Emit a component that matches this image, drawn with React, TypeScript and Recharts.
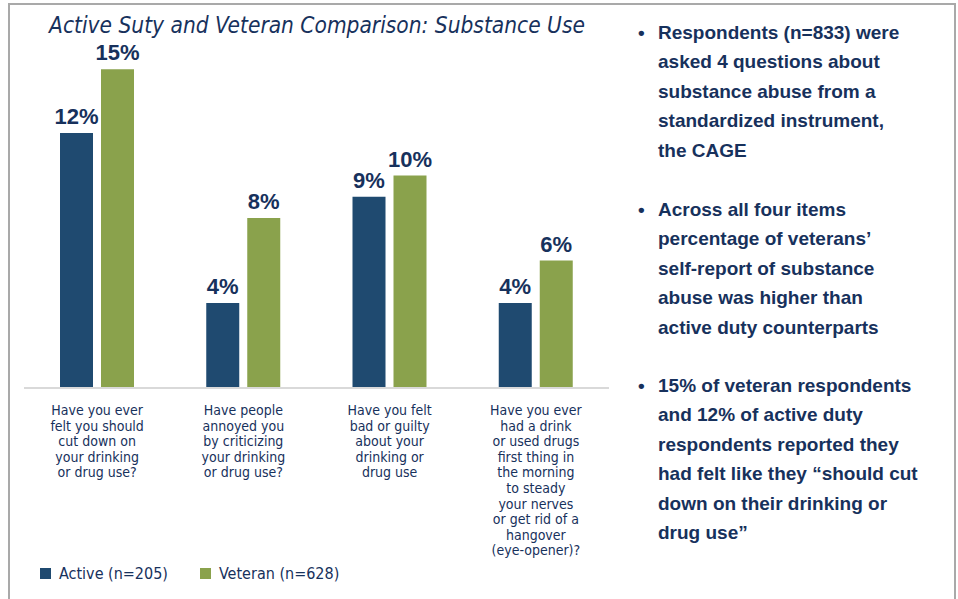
import { BarChart, Bar, XAxis, YAxis, LabelList } from "recharts";

// ── Data ───────────────────────────────────────────────────────────────
const QUESTIONS = [
  "Have you ever\nfelt you should\ncut down on\nyour drinking\nor drug use?",
  "Have people\nannoyed you\nby criticizing\nyour drinking\nor drug use?",
  "Have you felt\nbad or guilty\nabout your\ndrinking or\ndrug use",
  "Have you ever\nhad a drink\nor used drugs\nfirst thing in\nthe morning\nto steady\nyour nerves\nor get rid of a\nhangover\n(eye-opener)?",
];
const ACTIVE = [12, 4, 9, 4];
const VETERAN = [15, 8, 10, 6];

const SERIES = [
  { key: "active", name: "Active (n=205)", color: "#1f4a70" },
  { key: "veteran", name: "Veteran (n=628)", color: "#8aa24c" },
];

const BULLETS = [
  ["Respondents (n=833) were", "asked 4 questions about", "substance abuse from a", "standardized instrument,", "the CAGE"],
  ["Across all four items", "percentage of  veterans’", "self-report of substance", "abuse was higher than", "active duty counterparts"],
  ["15% of veteran respondents", "and 12% of active duty", "respondents reported they", "had felt like they “should cut", "down on their drinking or", "drug use”"],
];
const BULLET_TOPS = [18, 195, 371];

const data = QUESTIONS.map((q, i) => ({ q, active: ACTIVE[i], veteran: VETERAN[i] }));

// ── Styles ─────────────────────────────────────────────────────────────
const NAVY = "#17315c";
const NARROW = "'Liberation Sans Narrow', 'DejaVu Sans Condensed', 'Liberation Sans', sans-serif";
const BOLD = "'Liberation Sans', Arial, sans-serif";

function QuestionTick({ x, y, payload }: any) {
  const lines = String(payload.value).split("\n");
  return (
    <text x={x} y={y + 19} textAnchor="middle" fill={NAVY} fontSize={14} fontFamily={NARROW}>
      {lines.map((l, i) => (
        <tspan key={i} x={x} dy={i === 0 ? 0 : 15.6}>{l}</tspan>
      ))}
    </text>
  );
}

export default function App() {
  return (
    <div style={{ position: "fixed", left: 0, top: 0, width: 958, height: 599, background: "#fff", overflow: "hidden" }}>
      {/* frame */}
      <div style={{ position: "absolute", left: 8, top: 3, width: 944, height: 620, border: "2px solid #a9a9a9" }} />

      <div style={{
        position: "absolute", left: 0, width: 634, top: 12, textAlign: "center",
        fontFamily: NARROW, fontStyle: "italic", fontSize: 22.5, color: NAVY,
      }}>
        Active Suty and Veteran Comparison: Substance Use
      </div>

      <div style={{ position: "absolute", left: 0, top: 0 }}>
        <BarChart width={620} height={599} data={data} barSize={33} barGap={8}
          margin={{ top: 48, right: 11, bottom: 0, left: 24 }}
        >
          <XAxis dataKey="q" interval={0} height={211} tickLine={false}
            axisLine={{ stroke: "#d9d9d9", strokeWidth: 2 }} tick={<QuestionTick />}
          />
          <YAxis hide domain={[0, 16]} />
          {SERIES.map((s) => (
            <Bar key={s.key} dataKey={s.key} name={s.name} fill={s.color} isAnimationActive={false}>
              <LabelList dataKey={s.key} position="top" offset={9} formatter={(v: any) => `${v}%`}
                style={{ fill: NAVY, fontSize: 22, fontWeight: 700, fontFamily: BOLD }}
              />
            </Bar>
          ))}
        </BarChart>
      </div>

      {/* legend */}
      {SERIES.map((s, i) => (
        <div key={s.key} style={{
          position: "absolute", left: 40 + i * 160, top: 564, display: "flex", alignItems: "center",
          fontFamily: NARROW, fontSize: 16, color: NAVY,
        }}>
          <span style={{ width: 11, height: 11, background: s.color, marginRight: 8, display: "inline-block" }} />
          {s.name}
        </div>
      ))}

      {/* notes */}
      {BULLETS.map((lines, b) => (
        <div key={b} style={{
          position: "absolute", left: 658, top: BULLET_TOPS[b],
          fontFamily: BOLD, fontWeight: 700, fontSize: 19, lineHeight: "29.4px", color: NAVY, whiteSpace: "nowrap",
        }}>
          <span style={{ position: "absolute", left: -20 }}>•</span>
          {lines.map((l, i) => <div key={i}>{l}</div>)}
        </div>
      ))}
    </div>
  );
}
